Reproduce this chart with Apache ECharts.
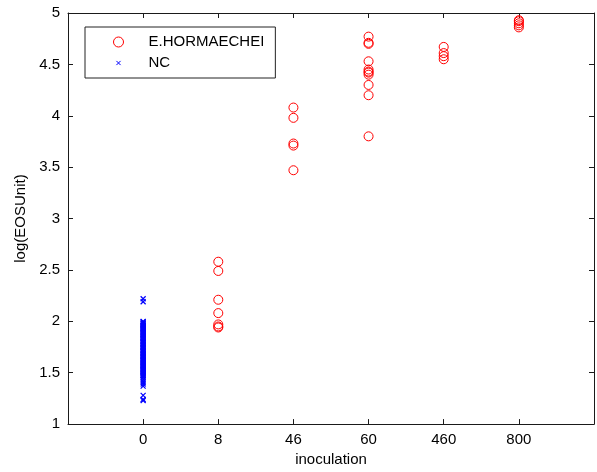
<!DOCTYPE html>
<html>
<head>
<meta charset="utf-8">
<script src="https://cdn.jsdelivr.net/npm/echarts@6/dist/echarts.min.js"></script>
<style>html,body{margin:0;padding:0;background:#fff}#c{width:597px;height:472px}</style>
</head>
<body>
<div id="c"></div>
<script>
// Categories on the x axis (positions 1..6)
const categories = ['0', '8', '46', '60', '460', '800'];

// E.HORMAECHEI values per category
const eh0 = [];
const eh8 = [2.58, 2.49, 2.21, 2.08, 1.97, 1.95, 1.94];
const eh46 = [4.08, 3.98, 3.73, 3.71, 3.47];
const eh60 = [4.77, 4.71, 4.70, 4.53, 4.45, 4.43, 4.42, 4.40, 4.30, 4.20, 3.80];
const eh460 = [4.67, 4.61, 4.58, 4.55];
const eh800 = [4.93, 4.92, 4.90, 4.88, 4.86];

// NC values (all at inoculation 0)
const nc0 = [2.22, 2.19, 2.00, 1.995, 1.99, 1.98, 1.975, 1.97, 1.96, 1.955, 1.95, 1.94, 1.93, 1.925,
  1.92, 1.91, 1.90, 1.895, 1.89, 1.88, 1.87, 1.865, 1.86, 1.85, 1.84, 1.835, 1.83, 1.82, 1.81,
  1.805, 1.80, 1.79, 1.78, 1.775, 1.77, 1.76, 1.75, 1.745, 1.74, 1.73, 1.72, 1.715, 1.71, 1.70,
  1.69, 1.685, 1.68, 1.67, 1.66, 1.655, 1.65, 1.64, 1.63, 1.625, 1.62, 1.61, 1.60, 1.595, 1.59,
  1.58, 1.57, 1.565, 1.56, 1.55, 1.54, 1.535, 1.53, 1.52, 1.51, 1.505, 1.50, 1.49, 1.48, 1.475,
  1.47, 1.46, 1.45, 1.43, 1.41, 1.39, 1.37, 1.28, 1.24, 1.23];

const yTicks = ['1', '1.5', '2', '2.5', '3', '3.5', '4', '4.5', '5'];

const ehGroups = [eh0, eh8, eh46, eh60, eh460, eh800];
const ehData = [];
ehGroups.forEach((g, i) => g.forEach(v => ehData.push([i + 1, v])));
const ncData = nc0.map(v => [1, v]);

const FONT = 'Liberation Sans, Arial, Helvetica, sans-serif';
const AX = '#1a1a1a';
const crossPath = 'path://M0,0M12,12M3.5,3.5L8.5,8.5M8.5,3.5L3.5,8.5';

const chart = echarts.init(document.getElementById('c'));
const baseAxis = {
  axisLine: { show: true, onZero: false, lineStyle: { color: AX, width: 1 } },
  axisTick: { show: true, inside: true, length: 5, lineStyle: { color: AX } },
  splitLine: { show: false }
};
chart.setOption({
  animation: false,
  backgroundColor: '#fff',
  textStyle: { fontFamily: FONT },
  grid: { left: 68, right: 3, top: 13, bottom: 45 },
  legend: {
    left: 85, top: 27, orient: 'vertical',
    backgroundColor: '#fff',
    borderColor: '#222', borderWidth: 1,
    padding: [7, 11, 7, 28],
    itemWidth: 10, itemHeight: 10, itemGap: 5,
    itemStyle: { borderWidth: 1 },
    textStyle: { fontFamily: FONT, fontSize: 15, color: '#000', lineHeight: 16, padding: [0, 0, 0, 20] },
    data: ['E.HORMAECHEI', 'NC']
  },
  xAxis: [
    Object.assign({}, baseAxis, {
      type: 'value', min: 0, max: 7, interval: 1, position: 'bottom',
      name: 'inoculation', nameLocation: 'middle', nameGap: 26,
      nameTextStyle: { fontFamily: FONT, fontSize: 15, color: '#000' },
      axisLabel: { margin: 8, fontFamily: FONT, fontSize: 15, color: '#000',
        formatter: v => categories[v - 1] || '' }
    }),
    Object.assign({}, baseAxis, {
      type: 'value', min: 0, max: 7, interval: 1, position: 'top',
      axisLabel: { show: false }
    })
  ],
  yAxis: [
    Object.assign({}, baseAxis, {
      type: 'value', min: 1, max: 5, interval: 0.5, position: 'left',
      name: 'log(EOSUnit)', nameLocation: 'middle', nameGap: 40, nameRotate: 90,
      nameTextStyle: { fontFamily: FONT, fontSize: 15, color: '#000' },
      axisLabel: { margin: 8, fontFamily: FONT, fontSize: 15, color: '#000',
        formatter: v => yTicks[Math.round((v - 1) / 0.5)] }
    }),
    Object.assign({}, baseAxis, {
      type: 'value', min: 1, max: 5, interval: 0.5, position: 'right',
      axisLabel: { show: false }
    })
  ],
  series: [
    {
      name: 'E.HORMAECHEI', type: 'scatter', xAxisIndex: 0, yAxisIndex: 0,
      symbol: 'circle', symbolSize: 9,
      itemStyle: { color: 'rgba(0,0,0,0)', borderColor: '#ff0000', borderWidth: 1, opacity: 1 },
      emphasis: { disabled: true },
      data: ehData
    },
    {
      name: 'NC', type: 'scatter', xAxisIndex: 0, yAxisIndex: 0,
      symbol: crossPath, symbolSize: 12,
      itemStyle: { color: '#0000ff', borderColor: '#0000ff', borderWidth: 1.2, opacity: 1 },
      emphasis: { disabled: true },
      data: ncData
    }
  ]
});
</script>
</body>
</html>
